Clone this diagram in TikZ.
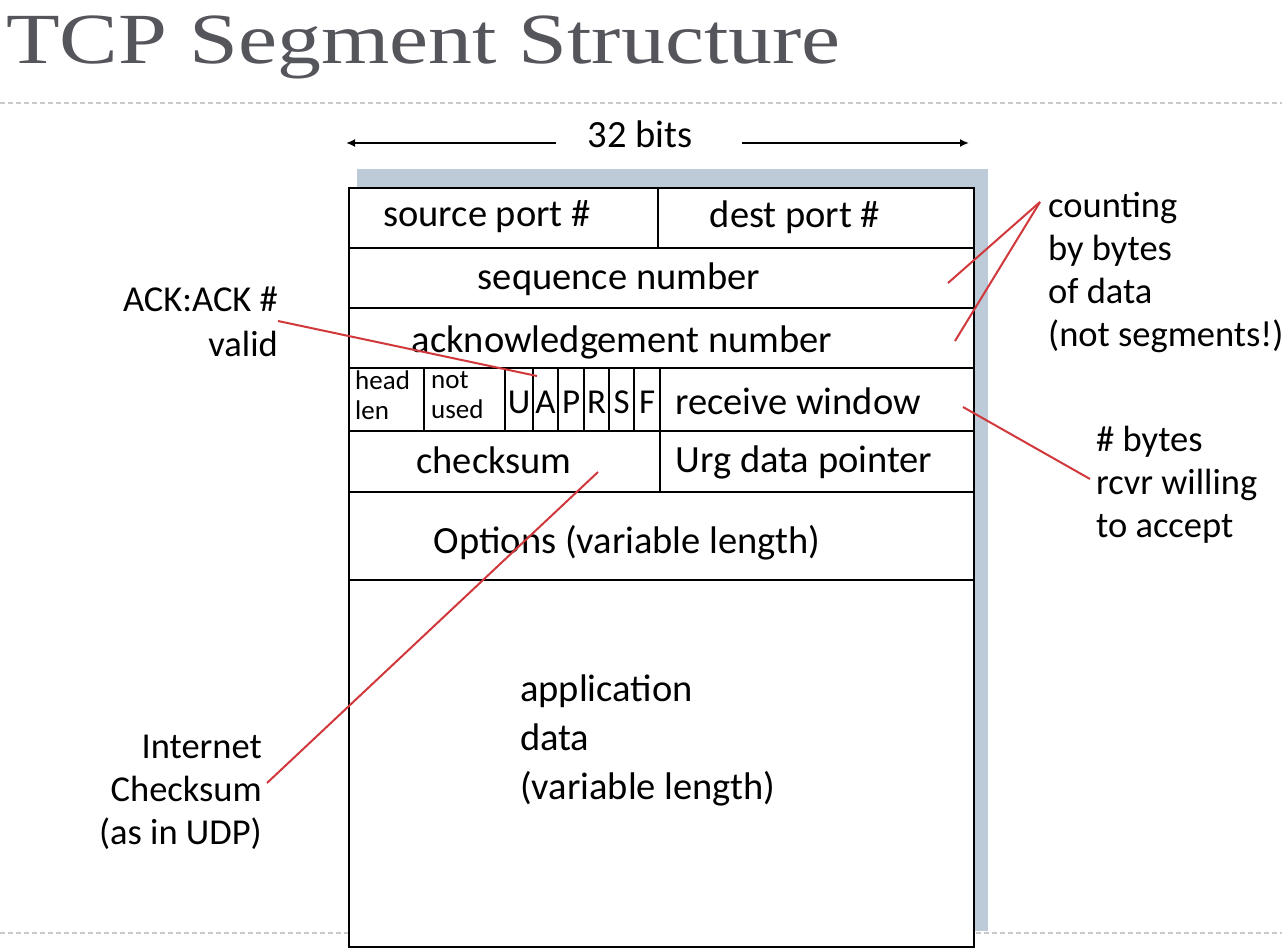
\documentclass[tikz,border=0pt]{standalone}
\usepackage{fontspec}
\usetikzlibrary{arrows.meta}
\setmainfont{Carlito}
\newfontfamily\titlefont{Liberation Serif}
\definecolor{titlegray}{HTML}{55555C}
\definecolor{shadowblue}{HTML}{BDCBD8}
\definecolor{notered}{HTML}{D0383C}
\definecolor{rulegray}{HTML}{C9C9C9}
\newcommand{\fieldsize}{\fontsize{38.5}{43}\selectfont}
\newcommand{\notesize}{\fontsize{36.5}{43}\selectfont}
\newcommand{\smallsize}{\fontsize{27}{30}\selectfont}
\newcommand{\flagsize}{\fontsize{35}{38}\selectfont}
\begin{document}
\begin{tikzpicture}[x=1pt,y=-1pt,
  cell/.style={draw=black, line width=2.2pt, minimum height=60pt, inner sep=0pt, anchor=north west, font=\fieldsize},
  txt/.style={inner sep=0pt, font=\fieldsize},
  note/.style={inner sep=0pt, font=\notesize, align=left, anchor=north west},
  noteright/.style={inner sep=0pt, font=\notesize, align=right, anchor=north east},
  pointer/.style={draw=notered, line width=2pt},
  sep/.style={draw=rulegray, line width=1.6pt, dash pattern=on 5pt off 3pt},
  widtharrow/.style={draw=black, line width=1.8pt, -{Latex[length=9pt,width=8pt]}}
]
\useasboundingbox (0,0) rectangle (1282,952);
\fill[white] (0,0) rectangle (1282,952);

% heading and slide rules
\node[anchor=base west, inner sep=0pt, text=titlegray, font=\titlefont\fontsize{72}{76}\selectfont] (title) at (6,64) {\scalebox{1.22}[1]{TCP Segment Structure}};
\draw[sep] (0,103) -- (1282,103);
\draw[sep] (0,933) -- (1282,933);

% shadow behind the segment
\fill[shadowblue] (357,169) rectangle (988,931);

% width indicator
\node[txt] (bits) at (640,134) {32 bits};
\coordinate (bitsL) at (346,143);
\coordinate (bitsR) at (969,143);
\draw[widtharrow] (556,143) -- (bitsL);
\draw[widtharrow] (742,143) -- (bitsR);

% header fields
\fill[white] (348,187) rectangle (973,946);
\node[cell, minimum width=309pt] (src) at (348,187) {};
\node[cell, minimum width=316pt] (dst) at (657,187) {};
\node[cell, minimum width=625pt] (seq) at (348,247) {};
\node[cell, minimum width=625pt] (ack) at (348,307) {};
\node[cell, minimum width=75pt, minimum height=63pt] (hlen) at (348,367) {};
\node[cell, minimum width=81pt, minimum height=63pt] (unused) at (423,367) {};
\node[cell, minimum width=28pt, minimum height=63pt] (fU) at (504,367) {};
\node[cell, minimum width=25pt, minimum height=63pt] (fA) at (532,367) {};
\node[cell, minimum width=26pt, minimum height=63pt] (fP) at (557,367) {};
\node[cell, minimum width=25pt, minimum height=63pt] (fR) at (583,367) {};
\node[cell, minimum width=25pt, minimum height=63pt] (fS) at (608,367) {};
\node[cell, minimum width=26pt, minimum height=63pt] (fF) at (633,367) {};
\node[cell, minimum width=314pt, minimum height=63pt] (rwin) at (659,367) {};
\node[cell, minimum width=311pt, minimum height=61pt] (csum) at (348,430) {};
\node[cell, minimum width=314pt, minimum height=61pt] (urg) at (659,430) {};
\node[cell, minimum width=625pt, minimum height=88pt] (opts) at (348,491) {};
\node[cell, minimum width=625pt, minimum height=367pt] (data) at (348,579) {};

% field labels
\node[txt] (srcT) at (487,217) {source port \#};
\node[txt] (dstT) at (795,217) {dest port \#};
\node[txt] (seqT) at (619,279) {sequence number};
\node[txt] (ackT) at (622,342) {acknowledgement number};
\node[inner sep=0pt, font=\smallsize, align=left, anchor=north west] (hlenT) at (355,371) {head\\len};
\node[inner sep=0pt, font=\smallsize, align=left, anchor=north west] (unusedT) at (431,371) {not\\used};
\foreach \f/\c in {fU/U, fA/A, fP/P, fR/R, fS/S, fF/F}
  \node[inner sep=0pt, font=\flagsize] at ([yshift=-3pt]\f.center) {\c};
\node[txt] (rwinT) at (798,401) {receive window};
\node[txt] (csumT) at (494,460) {checksum};
\node[txt] (urgT) at (804,462) {Urg data pointer};
\node[txt] (optsT) at (627,543) {Options (variable length)};
\node[note, font=\fontsize{38.5}{49}\selectfont] (dataT) at (520,675) {application\\data\\(variable length)};

% side notes
\node[noteright, font=\fontsize{36.5}{45}\selectfont] (ackN) at (278,287) {ACK:ACK \#\\valid};
\node[note] (cntN) at (1048,192) {counting\\by bytes\\of data\\(not segments!)};
\node[note] (rcvN) at (1096,426) {\# bytes\\rcvr willing\\to accept};
\node[noteright] (ckN) at (262,735) {Internet\\Checksum\\(as in UDP)};

% pointers from notes into the header
\coordinate (ackFrom) at (278,321);
\coordinate (ackTo) at (537,376);
\coordinate (cntFrom) at (1040,202);
\coordinate (seqTo) at (948,283);
\coordinate (ackNumTo) at (955,341);
\coordinate (rcvFrom) at (1090,479);
\coordinate (rwinTo) at (963,407);
\coordinate (ckFrom) at (267,783);
\coordinate (csumTo) at (598,472);
\draw[pointer] (ackFrom) -- (ackTo);
\draw[pointer] (cntFrom) -- (seqTo);
\draw[pointer] (cntFrom) -- (ackNumTo);
\draw[pointer] (rcvFrom) -- (rwinTo);
\draw[pointer] (ckFrom) -- (csumTo);
\end{tikzpicture}
\end{document}
